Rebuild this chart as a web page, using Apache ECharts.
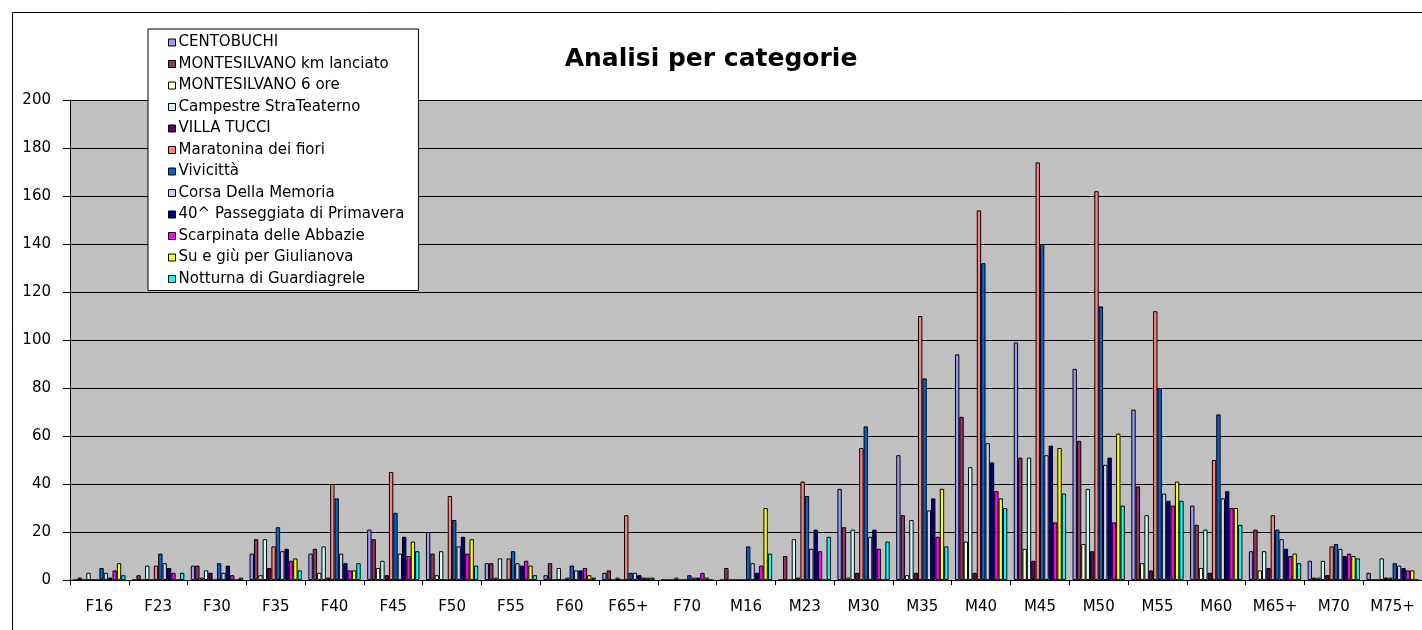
<!DOCTYPE html>
<html>
<head>
<meta charset="utf-8">
<script src="https://cdn.jsdelivr.net/npm/echarts@6/dist/echarts.min.js"></script>
<style>
  html, body { margin: 0; padding: 0; background: #fff; }
  #chart { width: 1422px; height: 630px; }
</style>
</head>
<body>
<div id="chart"></div>
<script>
// categorie
const categories = ["F16", "F23", "F30", "F35", "F40", "F45", "F50", "F55", "F60", "F65+", "F70",
  "M16", "M23", "M30", "M35", "M40", "M45", "M50", "M55", "M60", "M65+", "M70", "M75+"];

const seriesNames = ["CENTOBUCHI", "MONTESILVANO km lanciato", "MONTESILVANO 6 ore",
  "Campestre StraTeaterno", "VILLA TUCCI", "Maratonina dei fiori", "Vivicittà",
  "Corsa Della Memoria", "40^ Passeggiata di Primavera", "Scarpinata delle Abbazie",
  "Su e giù per Giulianova", "Notturna di Guardiagrele"];

// valori per gara (stesso ordine delle categorie)
const centobuchi     = [0, 0, 6, 11, 11, 21, 20, 7, 2, 3, 0, 0, 0, 38, 52, 94, 99, 88, 71, 31, 12, 8, 3];
const montesilvanoKm = [1, 2, 6, 17, 13, 17, 11, 7, 7, 4, 0, 5, 10, 22, 27, 68, 51, 58, 39, 23, 21, 1, 0];
const montesilvano6h = [0, 0, 1, 2, 3, 5, 2, 1, 0, 0, 0, 0, 0, 1, 2, 16, 13, 15, 7, 5, 4, 1, 0];
const campestre      = [3, 6, 4, 17, 14, 8, 12, 9, 5, 1, 1, 0, 17, 21, 25, 47, 51, 38, 27, 21, 12, 8, 9];
const villaTucci     = [0, 0, 3, 5, 1, 2, 0, 0, 0, 0, 0, 0, 1, 3, 3, 3, 8, 12, 4, 3, 5, 2, 1];
const maratonina     = [0, 6, 0, 14, 40, 45, 35, 9, 1, 27, 0, 0, 41, 55, 110, 154, 174, 162, 112, 50, 27, 14, 1];
const vivicitta      = [5, 11, 7, 22, 34, 28, 25, 12, 6, 3, 2, 14, 35, 64, 84, 132, 140, 114, 80, 69, 21, 15, 7];
const corsaMemoria   = [3, 7, 3, 12, 11, 11, 14, 7, 4, 3, 1, 7, 13, 18, 29, 57, 52, 48, 36, 34, 17, 13, 6];
const passeggiata    = [1, 5, 6, 13, 7, 18, 18, 6, 4, 2, 1, 3, 21, 21, 34, 49, 56, 51, 33, 37, 13, 10, 5];
const scarpinata     = [4, 3, 2, 8, 4, 10, 11, 8, 5, 1, 3, 6, 12, 13, 18, 37, 24, 24, 31, 30, 10, 11, 4];
const giulianova     = [7, 0, 0, 9, 4, 16, 17, 6, 2, 1, 1, 30, 0, 0, 38, 34, 55, 61, 41, 30, 11, 10, 4];
const notturna       = [2, 3, 1, 4, 7, 12, 6, 2, 1, 1, 0, 11, 18, 16, 14, 30, 36, 31, 33, 23, 7, 9, 0];

const seriesData = [centobuchi, montesilvanoKm, montesilvano6h, campestre, villaTucci, maratonina,
  vivicitta, corsaMemoria, passeggiata, scarpinata, giulianova, notturna];

// colori stile Excel
const colors = ["#9999FF", "#993366", "#FFFFCC", "#CCFFFF", "#660066", "#FF8080",
  "#0066CC", "#CCCCFF", "#000080", "#FF00FF", "#FFFF00", "#00FFFF"];

const font = "DejaVu Sans";

const chart = echarts.init(document.getElementById("chart"));
const option = {
  animation: false,
  color: colors,
  title: {
    text: "Analisi per categorie",
    left: "center",
    top: 42,
    textStyle: { fontFamily: font, fontSize: 25, fontWeight: "bold", color: "#000" },
  },
  legend: {
    orient: "vertical",
    left: 148,
    top: 29,
    padding: [6, 14, 4, 20],
    itemWidth: 7,
    itemHeight: 7,
    itemGap: 6.5,
    backgroundColor: "#fff",
    borderColor: "#000",
    borderWidth: 1,
    icon: "rect",
    itemStyle: { borderColor: "#000", borderWidth: 1 },
    textStyle: { fontFamily: font, fontSize: 15, color: "#000", lineHeight: 15, padding: [0, 0, 0, -2] },
    data: seriesNames,
  },
  grid: {
    left: 70,
    right: 0,
    top: 100,
    bottom: 50,
    show: true,
    backgroundColor: "#C0C0C0",
    borderWidth: 0,
  },
  xAxis: {
    type: "category",
    data: categories,
    axisLine: { lineStyle: { color: "#000", width: 1 } },
    axisTick: { show: true, length: 5, lineStyle: { color: "#000" } },
    axisLabel: { fontFamily: font, fontSize: 15, color: "#000", margin: 20, interval: 0 },
  },
  yAxis: {
    type: "value",
    min: 0,
    max: 200,
    interval: 20,
    axisLine: { show: true, lineStyle: { color: "#000", width: 1 } },
    axisTick: { show: true, length: 7, lineStyle: { color: "#000" } },
    axisLabel: { fontFamily: font, fontSize: 15, color: "#000", margin: 19 },
    splitLine: { show: true, lineStyle: { color: "#000", width: 1 } },
  },
  series: seriesNames.map((name, i) => ({
    name: name,
    type: "bar",
    data: seriesData[i],
    barGap: "0%",
    barCategoryGap: "11%",
    itemStyle: { color: colors[i], borderColor: "#000", borderWidth: 1 },
  })),
  graphic: [
    {
      type: "rect",
      left: 10,
      top: 10,
      shape: { width: 1440, height: 660 },
      style: { fill: "none", stroke: "#000", lineWidth: 1 },
      z: 100,
    },
  ],
};
chart.setOption(option);
window.addEventListener("resize", () => {
  chart.resize();
});
</script>
</body>
</html>
